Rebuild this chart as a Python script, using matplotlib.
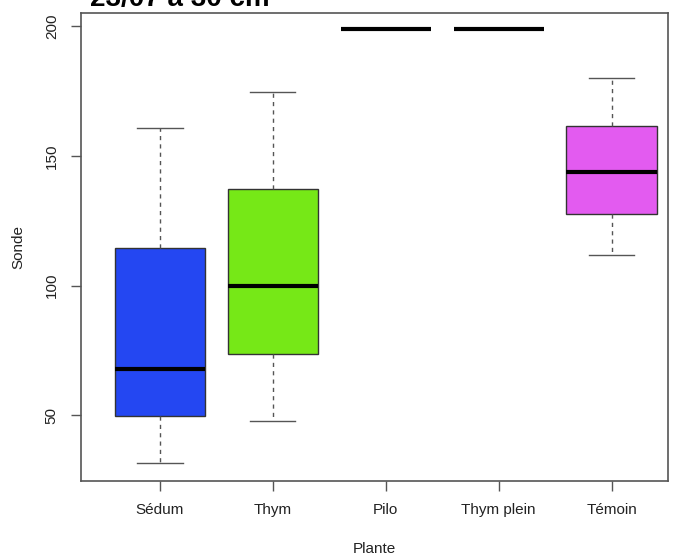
import matplotlib
matplotlib.use("Agg")
import matplotlib.pyplot as plt

plt.rcParams['font.family'] = ['Liberation Sans', 'DejaVu Sans']

categories = ["Sédum", "Thym", "Pilo", "Thym plein", "Témoin"]
whisker_low = [31.5, 47.8, 199, 199, 112]
q1 = [49.7, 73.7, 199, 199, 127.7]
median = [67.7, 99.7, 199, 199, 143.7]
q3 = [114.5, 137.2, 199, 199, 161.7]
whisker_high = [160.8, 174.6, 199, 199, 180]
colors = ["#2447F2", "#76E817", "#FFFFFF", "#FFFFFF", "#E35BF0"]
yticks = [50, 100, 150, 200]
title = "23/07 à 30 cm"

fig = plt.figure(figsize=(6.84, 5.59), dpi=100)
ax = fig.add_axes([81/684, 1-480.7/559, (668-81)/684, (480.7-12.7)/559])

stats = []
for i, c in enumerate(categories):
    stats.append(dict(label=c, whislo=whisker_low[i], q1=q1[i], med=median[i],
                      q3=q3[i], whishi=whisker_high[i], fliers=[]))

bp = ax.bxp(stats, positions=range(1, 6), widths=0.8, patch_artist=True,
            showfliers=False,
            boxprops=dict(edgecolor="#333333", linewidth=1.0),
            medianprops=dict(color="black", linewidth=3, solid_capstyle='butt'),
            whiskerprops=dict(color="#555555", linestyle=(0, (3, 3)), linewidth=1.0),
            capprops=dict(color="#555555", linewidth=1.0),
            capwidths=0.4)
for patch, col, lo, hi in zip(bp['boxes'], colors, q1, q3):
    patch.set_facecolor(col)
    if lo == hi:
        patch.set_edgecolor("none")
for i in range(len(categories)):
    if q1[i] == q3[i]:
        for k in (2*i, 2*i+1):
            bp['whiskers'][k].set_visible(False)
            bp['caps'][k].set_visible(False)

ax.set_xlim(0.3, 5.5)
ax.set_ylim(24.8, 205.3)
ax.set_yticks(yticks)
ax.set_yticklabels([str(t) for t in yticks], rotation=90, va='center', fontsize=11)
ax.set_xticks(range(1, 6))
ax.set_xticklabels(categories, fontsize=11)
ax.tick_params(axis='both', direction='out', length=7, width=1, colors='#555555',
               labelcolor='#222222', pad=9)
for s in ax.spines.values():
    s.set_color('#555555')
    s.set_linewidth(1.2)

ax.set_xlabel("Plante", fontsize=11, color='#222222', labelpad=18)
ax.set_ylabel("Sonde", fontsize=11, color='#222222', labelpad=14)

fig.text(90/684, 1-6/559, title, fontsize=20, fontweight='bold', ha='left', va='baseline')

fig.savefig("out.png", dpi=100)
